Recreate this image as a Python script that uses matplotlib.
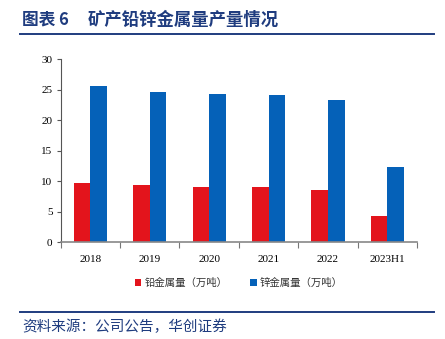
import matplotlib.pyplot as plt
import numpy as np

plt.rcParams['font.family'] = ['Liberation Serif', 'Noto Sans CJK SC']

categories = ['2018', '2019', '2020', '2021', '2022', '2023H1']
lead = [9.7, 9.3, 9.1, 9.0, 8.6, 4.2]     # 铅金属量（万吨）
zinc = [25.6, 24.6, 24.3, 24.1, 23.2, 12.3]  # 锌金属量（万吨）

navy = '#1F3C7F'
red = '#E3141C'
blue = '#0561B8'

fig = plt.figure(figsize=(4.45, 3.39), dpi=100)
ax = fig.add_axes([0.1364, 0.2861, 0.8007, 0.5398])

x = np.arange(len(categories))
w = 0.28
ax.bar(x - w / 2, lead, w, color=red, label='铅金属量（万吨）')
ax.bar(x + w / 2, zinc, w, color=blue, label='锌金属量（万吨）')

ax.set_xlim(-0.5, len(categories) - 0.5)
ax.set_ylim(0, 30)
ax.set_yticks([0, 5, 10, 15, 20, 25, 30])

# category labels centred, ticks on the boundaries
ax.set_xticks(np.arange(-0.5, len(categories)), minor=False)
ax.set_xticklabels([])
ax.set_xticks(x, minor=True)
ax.set_xticklabels(categories, minor=True)
ax.tick_params(axis='x', which='major', length=4, direction='out', color='#777777')
ax.tick_params(axis='x', which='minor', length=0, pad=9, labelsize=8)
ax.tick_params(axis='y', length=3, direction='out', labelsize=8, pad=3, color='#555555')

for s in ['top', 'right']:
    ax.spines[s].set_visible(False)
ax.spines['bottom'].set_color('#888888')
ax.spines['bottom'].set_linewidth(1.2)
ax.spines['left'].set_color('#555555')
ax.spines['left'].set_linewidth(0.8)

leg = ax.legend(loc='center', bbox_to_anchor=(0.5, -0.225), ncol=2, frameon=False,
                prop={'family': 'Noto Sans CJK SC', 'size': 7.5},
                handlelength=0.6, handleheight=0.6, handletextpad=0.3, columnspacing=2.2)
for t in leg.get_texts():
    t.set_color('#333333')

# header and footer
fig.text(22 / 445, 1 - 20 / 339, '图表 6', family=['Noto Sans CJK SC'], fontsize=12,
         fontweight='bold', color=navy, va='center', ha='left')
fig.text(88 / 445, 1 - 20 / 339, '矿产铅锌金属量产量情况', family=['Noto Sans CJK SC'],
         fontsize=12.5, fontweight='bold', color=navy, va='center', ha='left')
fig.add_artist(plt.Line2D([20 / 445, 434 / 445], [1 - 33.5 / 339] * 2, color=navy, lw=1.4))
fig.add_artist(plt.Line2D([20 / 445, 434 / 445], [1 - 311.7 / 339] * 2, color=navy, lw=1.4))
fig.text(22 / 445, 1 - 327 / 339, '资料来源：公司公告，华创证券', family=['Noto Sans CJK SC'],
         fontsize=10.5, color=navy, va='center', ha='left')

fig.savefig('out.png', dpi=100)
